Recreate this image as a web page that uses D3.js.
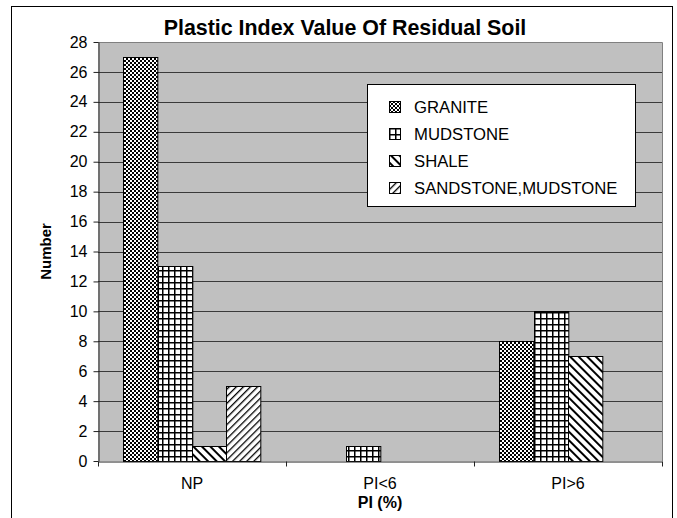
<!DOCTYPE html>
<html>
<head>
<meta charset="utf-8">
<script src="https://cdn.jsdelivr.net/npm/d3@7"></script>
<style>
  body { margin: 0; background: #fff; }
  svg { display: block; font-family: "Liberation Sans", Arial, sans-serif; }
</style>
</head>
<body>
<div id="chart"></div>
<script>
// data
var categories = ["NP", "PI<6", "PI>6"];
var seriesNames = ["GRANITE", "MUDSTONE", "SHALE", "SANDSTONE,MUDSTONE"];
var granite = [27, 0, 8];
var mudstone = [13, 1, 10];
var shale = [1, 0, 7];
var sandstone = [5, 0, 0];
var yTicks = [0, 2, 4, 6, 8, 10, 12, 14, 16, 18, 20, 22, 24, 26, 28];

var seriesValues = [granite, mudstone, shale, sandstone];
var patternIds = ["pGranite", "pMud", "pShale", "pSand"];

var W = 677, H = 518;
var plot = {left: 98, right: 662, top: 42, bottom: 461};

var svg = d3.select("#chart").append("svg")
    .attr("width", W)
    .attr("height", H);

// patterns
var defs = svg.append("defs");

var p1 = defs.append("pattern").attr("id", "pGranite")
    .attr("patternUnits", "userSpaceOnUse").attr("width", 4).attr("height", 4);
p1.append("rect").attr("width", 4).attr("height", 4).attr("fill", "#fff");
p1.append("rect").attr("width", 2).attr("height", 2).attr("fill", "#000");
p1.append("rect").attr("x", 2).attr("y", 2).attr("width", 2).attr("height", 2).attr("fill", "#000");

var p2 = defs.append("pattern").attr("id", "pMud")
    .attr("patternUnits", "userSpaceOnUse").attr("width", 6).attr("height", 6);
p2.append("rect").attr("width", 6).attr("height", 6).attr("fill", "#fff");
p2.append("rect").attr("width", 6).attr("height", 1.5).attr("fill", "#000");
p2.append("rect").attr("width", 1.5).attr("height", 6).attr("fill", "#000");

// shale: "\\\" stripes
var p3 = defs.append("pattern").attr("id", "pShale")
    .attr("patternUnits", "userSpaceOnUse").attr("width", 6).attr("height", 6)
    .attr("patternTransform", "rotate(-45)");
p3.append("rect").attr("width", 6).attr("height", 6).attr("fill", "#fff");
p3.append("rect").attr("width", 2).attr("height", 6).attr("fill", "#000");

// sandstone: "///" stripes
var p4 = defs.append("pattern").attr("id", "pSand")
    .attr("patternUnits", "userSpaceOnUse").attr("width", 5).attr("height", 5)
    .attr("patternTransform", "rotate(45)");
p4.append("rect").attr("width", 5).attr("height", 5).attr("fill", "#fff");
p4.append("rect").attr("width", 1.3).attr("height", 5).attr("fill", "#000");

// outer frame
svg.append("rect")
    .attr("x", 11.5).attr("y", 6.5)
    .attr("width", 661).attr("height", 530)
    .attr("fill", "#fff")
    .attr("stroke", "#000");

// scales
var x = d3.scaleBand()
    .domain(categories)
    .range([plot.left, plot.right]);

var bw = x.bandwidth();
var gap = bw * 0.135;
var x1 = d3.scaleBand()
    .domain(seriesNames)
    .range([gap, bw - gap]);

var y = d3.scaleLinear()
    .domain([0, 28])
    .range([plot.bottom, plot.top]);

// plot background
svg.append("rect")
    .attr("x", plot.left).attr("y", plot.top)
    .attr("width", plot.right - plot.left)
    .attr("height", plot.bottom - plot.top)
    .attr("fill", "#c0c0c0");
svg.append("path")
    .attr("d", "M" + plot.left + "," + (plot.top + 0.5) + "H" + (plot.right + 0.5) + "V" + plot.bottom)
    .attr("fill", "none")
    .attr("stroke", "#808080");

// gridlines
svg.append("g")
  .selectAll("line")
  .data(yTicks.filter(function(d) { return d > 0 && d < 28; }))
  .enter().append("line")
    .attr("x1", plot.left).attr("x2", plot.right)
    .attr("y1", function(d) { return Math.round(y(d)) + 0.5; })
    .attr("y2", function(d) { return Math.round(y(d)) + 0.5; })
    .attr("stroke", "#3a3a3a");

// bars
var rows = [];
seriesNames.forEach(function(s, i) {
  categories.forEach(function(c, j) {
    if (seriesValues[i][j] > 0) rows.push({s: s, c: c, v: seriesValues[i][j], p: patternIds[i]});
  });
});

svg.append("g")
  .selectAll("rect")
  .data(rows)
  .enter().append("rect")
    .attr("x", function(d) { return Math.round(x(d.c) + x1(d.s)) + 0.5; })
    .attr("y", function(d) { return Math.round(y(d.v)) + 0.5; })
    .attr("width", x1.bandwidth())
    .attr("height", function(d) { return Math.round(y(0)) - Math.round(y(d.v)); })
    .attr("fill", function(d) { return "url(#" + d.p + ")"; })
    .attr("stroke", "#000");

// y axis
var yAxis = svg.append("g")
    .attr("transform", "translate(" + (plot.left + 0.5) + ",0)")
    .call(d3.axisLeft(y).tickValues(yTicks).tickSize(5).tickSizeOuter(0).tickPadding(6));
yAxis.select(".domain").attr("stroke", "#222");
yAxis.selectAll(".tick line").attr("stroke", "#222");
yAxis.selectAll("text").attr("font-size", 16).attr("font-family", "Liberation Sans, Arial, sans-serif").attr("fill", "#000");

// x axis
var xAxis = svg.append("g")
    .attr("transform", "translate(0," + (plot.bottom + 0.5) + ")")
    .call(d3.axisBottom(x).tickSize(0).tickPadding(16));
xAxis.select(".domain").attr("stroke", "#222");
xAxis.selectAll("text").attr("font-size", 16).attr("font-family", "Liberation Sans, Arial, sans-serif").attr("fill", "#000");

// x tick marks between categories
var bounds = categories.map(function(c) { return x(c); }).concat([plot.right]);
xAxis.selectAll(".sep")
  .data(bounds)
  .enter().append("line")
    .attr("class", "sep")
    .attr("x1", function(d) { return Math.round(d) + 0.5; })
    .attr("x2", function(d) { return Math.round(d) + 0.5; })
    .attr("y1", 0).attr("y2", 5)
    .attr("stroke", "#222");

// titles
svg.append("text")
    .attr("x", 345).attr("y", 35)
    .attr("text-anchor", "middle")
    .attr("font-size", 21.4)
    .attr("font-weight", "bold")
    .text("Plastic Index Value Of Residual Soil");

svg.append("text")
    .attr("x", (plot.left + plot.right) / 2).attr("y", 508)
    .attr("text-anchor", "middle")
    .attr("font-size", 16)
    .attr("font-weight", "bold")
    .text("PI (%)");

svg.append("text")
    .attr("transform", "translate(51," + ((plot.top + plot.bottom) / 2) + ") rotate(-90)")
    .attr("text-anchor", "middle")
    .attr("font-size", 15)
    .attr("font-weight", "bold")
    .text("Number");

// legend
var legend = svg.append("g").attr("transform", "translate(367,84)");
legend.append("rect")
    .attr("x", 0.5).attr("y", 0.5)
    .attr("width", 268).attr("height", 122)
    .attr("fill", "#fff")
    .attr("stroke", "#000");

var item = legend.selectAll(".item")
  .data(seriesNames)
  .enter().append("g")
    .attr("class", "item")
    .attr("transform", function(d, i) { return "translate(22," + (17 + i * 27) + ")"; });

item.append("rect")
    .attr("x", 0.5).attr("y", 0.5)
    .attr("width", 11).attr("height", 11)
    .attr("fill", function(d, i) { return "url(#" + patternIds[i] + ")"; })
    .attr("stroke", "#000");

item.append("text")
    .attr("x", 25).attr("y", 12)
    .attr("font-size", 16.7)
    .text(function(d) { return d; });
</script>
</body>
</html>
